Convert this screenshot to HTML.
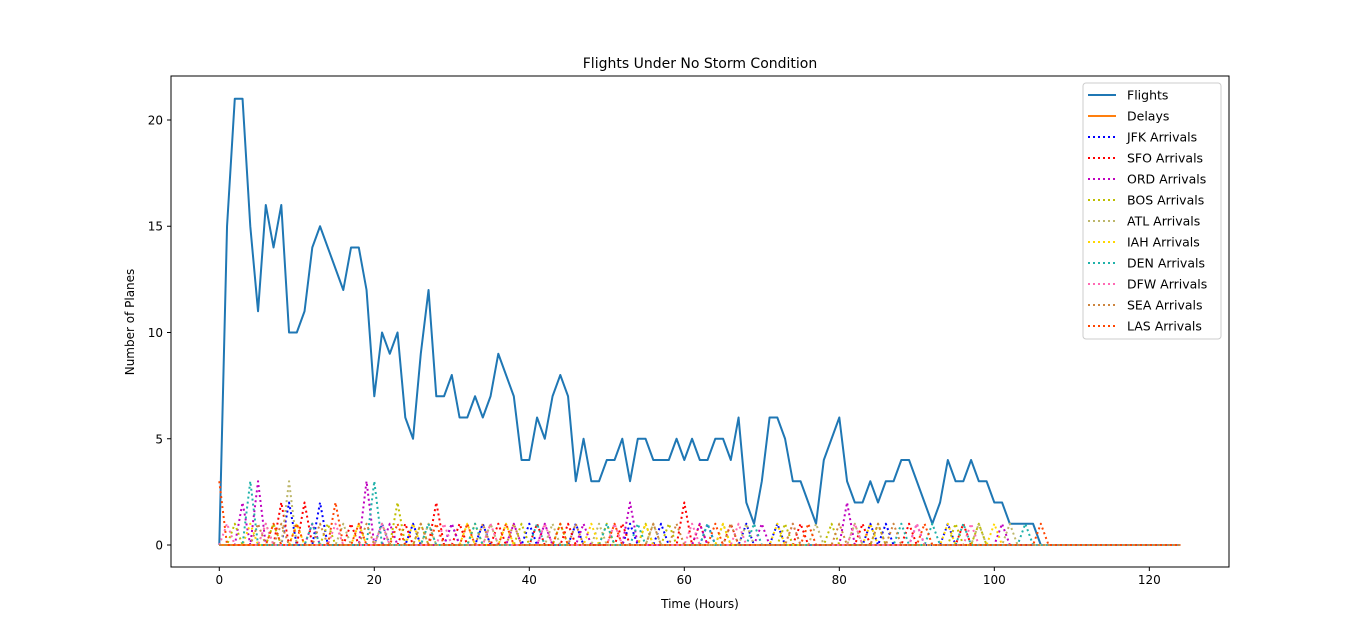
<!DOCTYPE html>
<html><head><meta charset="utf-8">
<style>
body{margin:0;background:#fff;}
svg{display:block;font-family:"DejaVu Sans","Liberation Sans",sans-serif;}
</style></head>
<body>
<svg id="chart" width="1366" height="637" viewBox="0 0 1366 637">
<rect x="0" y="0" width="1366" height="637" fill="#fff"/>
<text x="700" y="68" text-anchor="middle" font-size="14" fill="#000">Flights Under No Storm Condition</text>
<g id="plot"></g>
<rect x="171" y="76" width="1058" height="491" fill="none" stroke="#000" stroke-width="1"/>
<text x="700" y="608" text-anchor="middle" font-size="12">Time (Hours)</text>
<text transform="translate(134,322) rotate(-90)" text-anchor="middle" font-size="12">Number of Planes</text>
<g id="legend"></g>
</svg>
<script>
const hours = Array.from({length:125},(_,i)=>i);
const flights = [0,15,21,21,15,11,16,14,16,10,10,11,14,15,14,13,12,14,14,12,7,10,9,10,6,5,9,12,7,7,8,6,6,7,6,7,9,8,7,4,4,6,5,7,8,7,3,5,3,3,4,4,5,3,5,5,4,4,4,5,4,5,4,4,5,5,4,6,2,1,3,6,6,5,3,3,2,1,4,5,6,3,2,2,3,2,3,3,4,4,3,2,1,2,4,3,3,4,3,3,2,2,1,1,1,1,0];
const xTicks = [0,20,40,60,80,100,120];
const yTicks = [0,5,10,15,20];
// arrival spikes: hours and values per airport
const jfkHours = [9,13,21,25,30,34,40,46,53,57,63,68,72,84,86,94];
const jfkVals  = [2,2,1,1,1,1,1,1,1,1,1,1,1,1,1,1];
const sfoHours = [8,11,17,24,28,31,36,41,45,52,60,62,66,75,83,89,96];
const sfoVals  = [2,2,1,1,2,1,1,1,1,1,2,1,1,1,1,1,1];
const ordHours = [3,5,12,19,22,30,38,42,47,53,62,70,81,90,101];
const ordVals  = [2,3,1,3,1,1,1,1,1,2,1,1,2,1,1];
const bosHours = [2,7,14,23,26,33,39,44,50,55,58,65,73,79,85,95,98];
const bosVals  = [1,1,1,2,1,1,1,1,1,1,1,1,1,1,1,1,1];
const atlHours = [6,9,16,21,27,35,43,49,56,68,77,82,98,102];
const atlVals  = [1,3,1,1,1,1,1,1,1,1,1,1,1,1];
const iahHours = [4,10,18,25,32,37,48,55,65,72,84,94,100];
const iahVals  = [1,1,1,1,1,1,1,1,1,1,1,1,1];
const denHours = [4,12,20,27,33,41,50,54,63,69,88,92,96,104];
const denVals  = [3,1,3,1,1,1,1,1,1,1,1,1,1,1];
const dfwHours = [1,6,15,21,29,35,42,51,61,67,74,82,90,97];
const dfwVals  = [1,1,1,1,1,1,1,1,1,1,1,1,1,1];
const seaHours = [5,8,13,19,26,34,38,46,56,59,66,74,80,85,87];
const seaVals  = [1,1,1,1,1,1,1,1,1,1,1,1,1,1,1];
const lasHours = [0,7,10,15,18,23,28,32,37,44,51,64,76,91,106];
const lasVals  = [3,1,1,2,1,1,1,1,1,1,1,1,1,1,1];

const NS='http://www.w3.org/2000/svg';
const X0=171,X1=1229,Y0=76,Y1=567;
const xMin=-6.23,xMax=130.28,yMin=-1.035,yMax=22.07;
const xs=v=>X0+(v-xMin)/(xMax-xMin)*(X1-X0);
const ys=v=>Y1-(v-yMin)/(yMax-yMin)*(Y1-Y0);
const plot=document.getElementById('plot');
const svg=document.getElementById('chart');
function mk(tag,attrs,parent){const e=document.createElementNS(NS,tag);for(const k in attrs)e.setAttribute(k,attrs[k]);parent.appendChild(e);return e;}

xTicks.forEach(t=>{
  const l=mk('line',{x1:xs(t),x2:xs(t),y1:Y1,y2:Y1+4,stroke:'#000'},svg);
  
  
  const tx=mk('text',{x:xs(t),y:Y1+17,'text-anchor':'middle','font-size':'12'},svg);
  tx.textContent=t;
  
  
});
yTicks.forEach(t=>{
  const l=mk('line',{x1:X0-4,x2:X0,y1:ys(t),y2:ys(t),stroke:'#000'},svg);
  
  
  const tx=mk('text',{x:X0-8,y:ys(t)+4.5,'text-anchor':'end','font-size':'12'},svg);
  tx.textContent=t;
  
  
});

function series(hs,vs){const a=hours.map(()=>0);hs.forEach((h,i)=>{a[h]=vs[i];});return a;}
function path(arr,color,w,dash,name){
  const d=arr.map((v,i)=>(i?'L':'M')+xs(hours[i]).toFixed(2)+' '+ys(v).toFixed(2)).join(' ');
  const p=mk('path',{d:d,fill:'none',stroke:color,'stroke-width':w,'stroke-linejoin':'round'},plot);
  if(dash)p.setAttribute('stroke-dasharray',dash);
  
  
}
const arr=[
 ['JFK Arrivals','#0000ff',jfkHours,jfkVals],
 ['SFO Arrivals','#ff0000',sfoHours,sfoVals],
 ['ORD Arrivals','#bf00bf',ordHours,ordVals],
 ['BOS Arrivals','#bfbf00',bosHours,bosVals],
 ['ATL Arrivals','#bdb76b',atlHours,atlVals],
 ['IAH Arrivals','#ffd700',iahHours,iahVals],
 ['DEN Arrivals','#20b2aa',denHours,denVals],
 ['DFW Arrivals','#ff69b4',dfwHours,dfwVals],
 ['SEA Arrivals','#cd853f',seaHours,seaVals],
 ['LAS Arrivals','#ff4500',lasHours,lasVals]
];
const fl=hours.map((h,i)=>flights[i]!==undefined?flights[i]:0);
path(fl,'#1f77b4',2,null,'flights-line');
path(hours.map(()=>0),'#ff7f0e',2,null,'delays-line');
arr.forEach(a=>path(series(a[2],a[3]),a[1],2,'2,3',a[0].toLowerCase().replace(' ','-')+'-line'));

const lg=document.getElementById('legend');
const box=mk('rect',{x:1083,y:83,width:138,height:256,rx:3,fill:'#fff',stroke:'#ccc'},lg);


const entries=[['Flights','#1f77b4',null],['Delays','#ff7f0e',null]].concat(arr.map(a=>[a[0],a[1],'2,3']));
entries.forEach((e,i)=>{
  const y=95+i*21;
  const l=mk('line',{x1:1088,x2:1116,y1:y,y2:y,stroke:e[1],'stroke-width':2},lg);
  if(e[2])l.setAttribute('stroke-dasharray',e[2]);
  
  
  const t=mk('text',{x:1127,y:y+4.5,'font-size':'12.5'},lg);
  t.textContent=e[0];
  
  
});
</script>
</body></html>
